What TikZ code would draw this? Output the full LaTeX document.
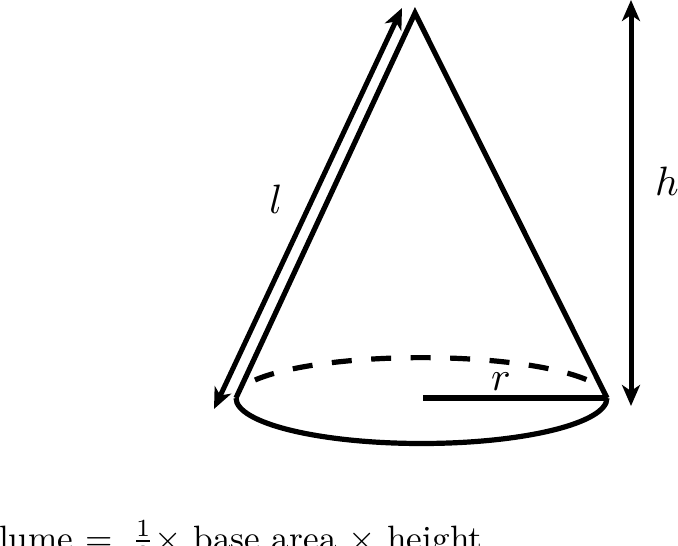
\documentclass[tikz,border=0pt]{standalone}
\usetikzlibrary{arrows.meta}
\tikzset{
  shape line/.style={line width=5.2pt},
  dim line/.style={line width=5pt,{Stealth[inset=6pt,length=21pt,width=18pt]}-{Stealth[inset=6pt,length=21pt,width=18pt]}},
  lab/.style={inner sep=0pt,scale=4.1}
}
\begin{document}
\begin{tikzpicture}[x=1pt,y=-1pt]
\useasboundingbox (0,0) rectangle (678,546);
\clip (0,0) rectangle (678,546);
\coordinate (apex) at (415,13);
\coordinate (bl) at (236,398);
\coordinate (br) at (607,398);
\coordinate (cen) at (423,398);
\coordinate (la) at (402,8);
\coordinate (lb) at (214,409);
\coordinate (ha) at (631,0);
\coordinate (hb) at (631,406);
\draw[shape line,line join=miter] (bl) -- (apex) -- (br);
\draw[shape line] (cen) -- (br);
\draw[shape line] (bl) arc[start angle=180,end angle=0,x radius=185.5,y radius=45.5];
\draw[shape line,dash pattern=on 20pt off 19.5pt] (255,380) arc[start angle=-153,end angle=-27,x radius=186.5,y radius=41];
\draw[dim line] (la) -- (lb);
\draw[dim line] (ha) -- (hb);
\node[lab] (ll) at (276,199) {$l$};
\node[lab] (lh) at (667,181) {$h$};
\node[lab] (lr) at (501,382) {$r$};
\node[inner sep=0pt,anchor=base east,scale=3.52] (formula) at (483,550) {Volume $=\;\frac{1}{3}\times$ base area $\times$ height};
\end{tikzpicture}
\end{document}
